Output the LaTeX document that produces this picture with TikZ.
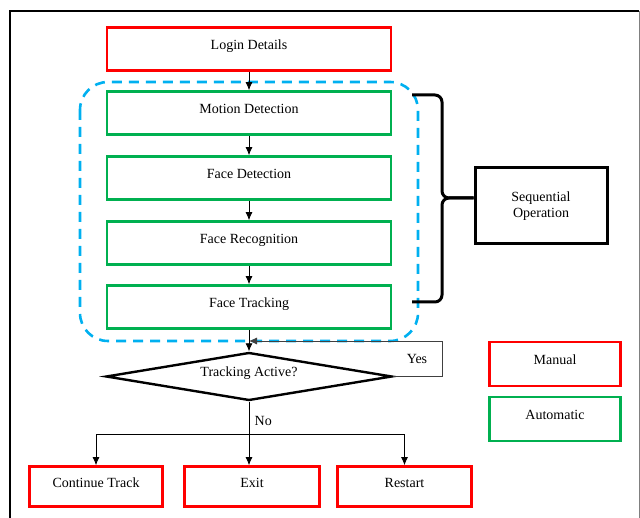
\documentclass[tikz,border=0pt]{standalone}
\usepackage{fontspec}
\setmainfont{Liberation Serif}
\usetikzlibrary{arrows.meta, positioning, shapes.geometric}

\definecolor{boxred}{RGB}{255,0,0}
\definecolor{boxgreen}{RGB}{0,176,80}
\definecolor{dashblue}{RGB}{0,176,240}

\begin{document}
\begin{tikzpicture}[
            x = 1pt, y = -1pt, % pixel grid of the figure
            font = \fontsize{14}{16}\selectfont,
            >= {Latex[length=8pt, width=7pt]},
            redbox/.style = {draw=boxred, line width=2.6pt, minimum height=43pt, inner sep=0pt, text depth=8pt},
            greenbox/.style = {draw=boxgreen, line width=2.6pt, minimum width=284pt, minimum height=43pt, inner sep=0pt, text depth=8pt},
            decision/.style = {diamond, aspect=6, draw, line width=2.4pt, minimum width=286pt, minimum height=48pt, inner sep=0pt, text depth=10pt},
            flow/.style = {->, line width=0.8pt}, % thin connector
            brace/.style = {line width=3pt, rounded corners=7pt}
        ]
        \useasboundingbox (0,0) rectangle (640,518);

        % frame
        \draw[line width=2.5pt] (10,530) -- (10,11) -- (639,11);
        \draw[gray, line width=1pt] (639,11) -- (639,530);

        \node[redbox, minimum width=284pt] (login) at (249,49) {Login Details};
        \node[greenbox] (motion) [below=18.4pt of login] {Motion Detection};
        \node[greenbox] (facedet) [below=19.4pt of motion] {Face Detection};
        \node[greenbox] (facerec) [below=19.4pt of facedet] {Face Recognition};
        \node[greenbox] (track) [below=18.4pt of facerec] {Face Tracking};
        \node[decision] (active) [below=21.5pt of track] {Tracking Active?};

        \node[redbox, minimum width=135pt, minimum height=40pt] (exit) [below=63.5pt of active, xshift=3pt] {Exit};
        \node[redbox, minimum width=133pt, minimum height=40pt] (cont) [left=19.4pt of exit] {Continue Track};
        \node[redbox, minimum width=134pt, minimum height=40pt] (restart) [right=15.4pt of exit] {Restart};

        \node[draw, line width=3pt, minimum width=132pt, minimum height=76pt, align=center] (seq) at (541,206) {Sequential\\Operation};
        \node[redbox, minimum width=131pt, minimum height=44pt] (manual) at (555,364) {Manual};
        \node[greenbox, minimum width=131pt, minimum height=44pt] (automatic) [below=8.4pt of manual] {Automatic};

        % automatic group
        \draw[dashblue, line width=2.6pt, dash pattern=on 10pt off 7pt, rounded corners=28pt] (80,82) rectangle (418,341);

        % brace to the sequential box
        \coordinate (tip) at (seq.west |- 0,198);
        \draw[brace] (412,95) -- (442,95) -- (442,198) -- (tip);
        \draw[brace] (412,302) -- (442,302) -- (442,198) -- (tip);

        \path[flow] (login) edge (motion);
        \path[flow] (motion) edge (facedet);
        \path[flow] (facedet) edge (facerec);
        \path[flow] (facerec) edge (track);
        \path[flow] (track) edge (active);

        % yes loop
        \coordinate (loop) at (442,341);
        \coordinate (join) at (track.south |- loop);
        \draw[flow, draw=black!75] (active.east) -| (loop) -- (join);
        \node (yes) at (417,359) {Yes};

        % no branch
        \coordinate (split) at (active.south |- 0,434);
        \draw[flow] (active.south) -- node[pos=0.3, right=2pt] {No} (active.south |- exit.north);
        \draw[flow] (split) -| (cont.north);
        \draw[flow] (split) -| (restart.north);
\end{tikzpicture}
\end{document}
